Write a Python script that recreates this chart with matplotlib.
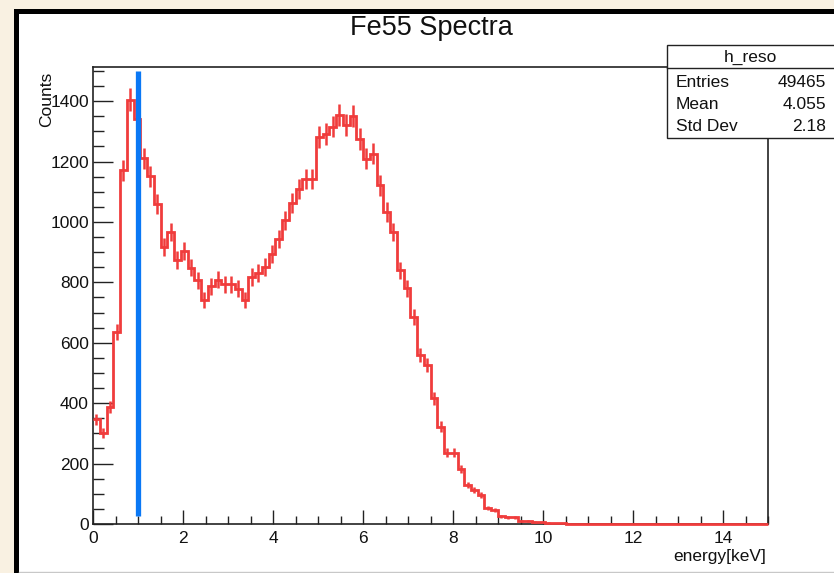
import numpy as np
import matplotlib
matplotlib.use("Agg")
import matplotlib.pyplot as plt
from matplotlib.patches import Rectangle
from matplotlib.lines import Line2D
from matplotlib.ticker import MultipleLocator

# h_reso: 100 bins of 0.15 keV between 0 and 15 keV
bin_lo = 0.0
bin_hi = 15.0
counts = [
    346, 302, 388, 636, 1171, 1405, 1342, 1211, 1151, 1060,
    917, 967, 873, 904, 849, 807, 741, 787, 809, 793,
    793, 779, 741, 818, 831, 851, 895, 943, 1005, 1063,
    1110, 1143, 1143, 1281, 1292, 1316, 1353, 1320, 1350, 1275,
    1209, 1226, 1121, 1033, 967, 840, 780, 686, 559, 526,
    416, 322, 236, 236, 181, 129, 112, 96, 52, 46,
    26, 22, 22, 9, 9, 6, 5, 4, 3, 2,
    1, 0, 0, 0, 0, 0, 0, 0, 0, 0,
    0, 0, 0, 0, 0, 0, 0, 0, 0, 0,
    0, 0, 0, 0, 0, 0, 0, 0, 0, 0,
]
stats_rows = ["Entries", "Mean", "Std Dev"]
stats_vals = ["49465", "4.055", "2.18"]
cut_energy = 1.0
cut_span = [27, 1500]

W, H = 834, 573
RED = "#f03c3c"
BLUE = "#0a78f5"
BEIGE = "#f9f1e2"

plt.rcParams["font.family"] = ["Liberation Sans", "DejaVu Sans"]

fig = plt.figure(figsize=(W / 100, H / 100), dpi=100, facecolor=BEIGE)


def fx(px):
    return px / W


def fy(py):
    return 1 - py / H


# canvas: black frame on top/left, white pad
fig.patches.append(Rectangle((fx(14), fy(573)), fx(830), 564 / H, transform=fig.transFigure,
                             facecolor="black", edgecolor="none", zorder=-3))
fig.patches.append(Rectangle((fx(19), fy(572)), fx(820), 558 / H, transform=fig.transFigure,
                             facecolor="white", edgecolor="none", zorder=-2))
fig.add_artist(Line2D([fx(19), 1], [fy(572), fy(572)], color="#c8c8c8", lw=1, zorder=-1))

ax = fig.add_axes([fx(93), fy(524), fx(768 - 93), (524 - 67) / H])
ax.set_zorder(1)
ax.set_facecolor("white")

counts = np.array(counts, dtype=float)
edges = np.linspace(bin_lo, bin_hi, len(counts) + 1)
centers = 0.5 * (edges[:-1] + edges[1:])

ax.stairs(counts, edges, baseline=None, color=RED, lw=2.0, zorder=3, clip_on=False)
ax.errorbar(centers, counts, yerr=np.sqrt(counts), fmt="none", ecolor=RED,
            elinewidth=1.8, capsize=0, zorder=3)
ax.plot([cut_energy, cut_energy], cut_span, color=BLUE, lw=3.8,
        solid_capstyle="butt", zorder=4)

ax.set_xlim(bin_lo, bin_hi)
ax.set_ylim(0, 1513)

ax.xaxis.set_major_locator(MultipleLocator(2))
ax.xaxis.set_minor_locator(MultipleLocator(0.5))
ax.yaxis.set_major_locator(MultipleLocator(200))
ax.yaxis.set_minor_locator(MultipleLocator(50))
ax.tick_params(axis="both", which="both", direction="in", top=False, right=False,
               color="#222222", width=1.0, labelsize=12.5, labelcolor="#111111")
ax.tick_params(axis="y", which="major", length=14.5, pad=3)
ax.tick_params(axis="y", which="minor", length=8)
ax.tick_params(axis="x", which="major", length=10, pad=5)
ax.tick_params(axis="x", which="minor", length=5.8)
for sp in ax.spines.values():
    sp.set_linewidth(1.2)
    sp.set_color("#222222")
    sp.set_zorder(2)

fig.text(fx(47), fy(72), "Counts", rotation=90, ha="center", va="top",
         fontsize=12.5, color="#111111", zorder=5)
fig.text(fx(766), fy(557), "energy[keV]", ha="right", va="center",
         fontsize=12.5, color="#111111", zorder=5)
fig.text(fx(431), fy(28), "Fe55 Spectra", ha="center", va="center",
         fontsize=19.5, color="#111111", zorder=5)

# stats box
fig.patches.append(Rectangle((fx(667), fy(138)), fx(170), (138 - 45) / H,
                             transform=fig.transFigure, facecolor="white",
                             edgecolor="#222222", lw=1.0, zorder=5))
fig.add_artist(Line2D([fx(667), 1], [fy(67.5), fy(67.5)], color="#222222", lw=1.0, zorder=6))
fig.text(fx(750), fy(57.5), "h_reso", ha="center", va="center", fontsize=12.5,
         color="#111111", zorder=7)
for i, (name, val) in enumerate(zip(stats_rows, stats_vals)):
    y = 82.5 + 22 * i
    fig.text(fx(676), fy(y), name, ha="left", va="center", fontsize=12.5,
             color="#111111", zorder=7)
    fig.text(fx(826), fy(y), val, ha="right", va="center", fontsize=12.5,
             color="#111111", zorder=7)

fig.savefig("out.png", dpi=100, facecolor=fig.get_facecolor())
